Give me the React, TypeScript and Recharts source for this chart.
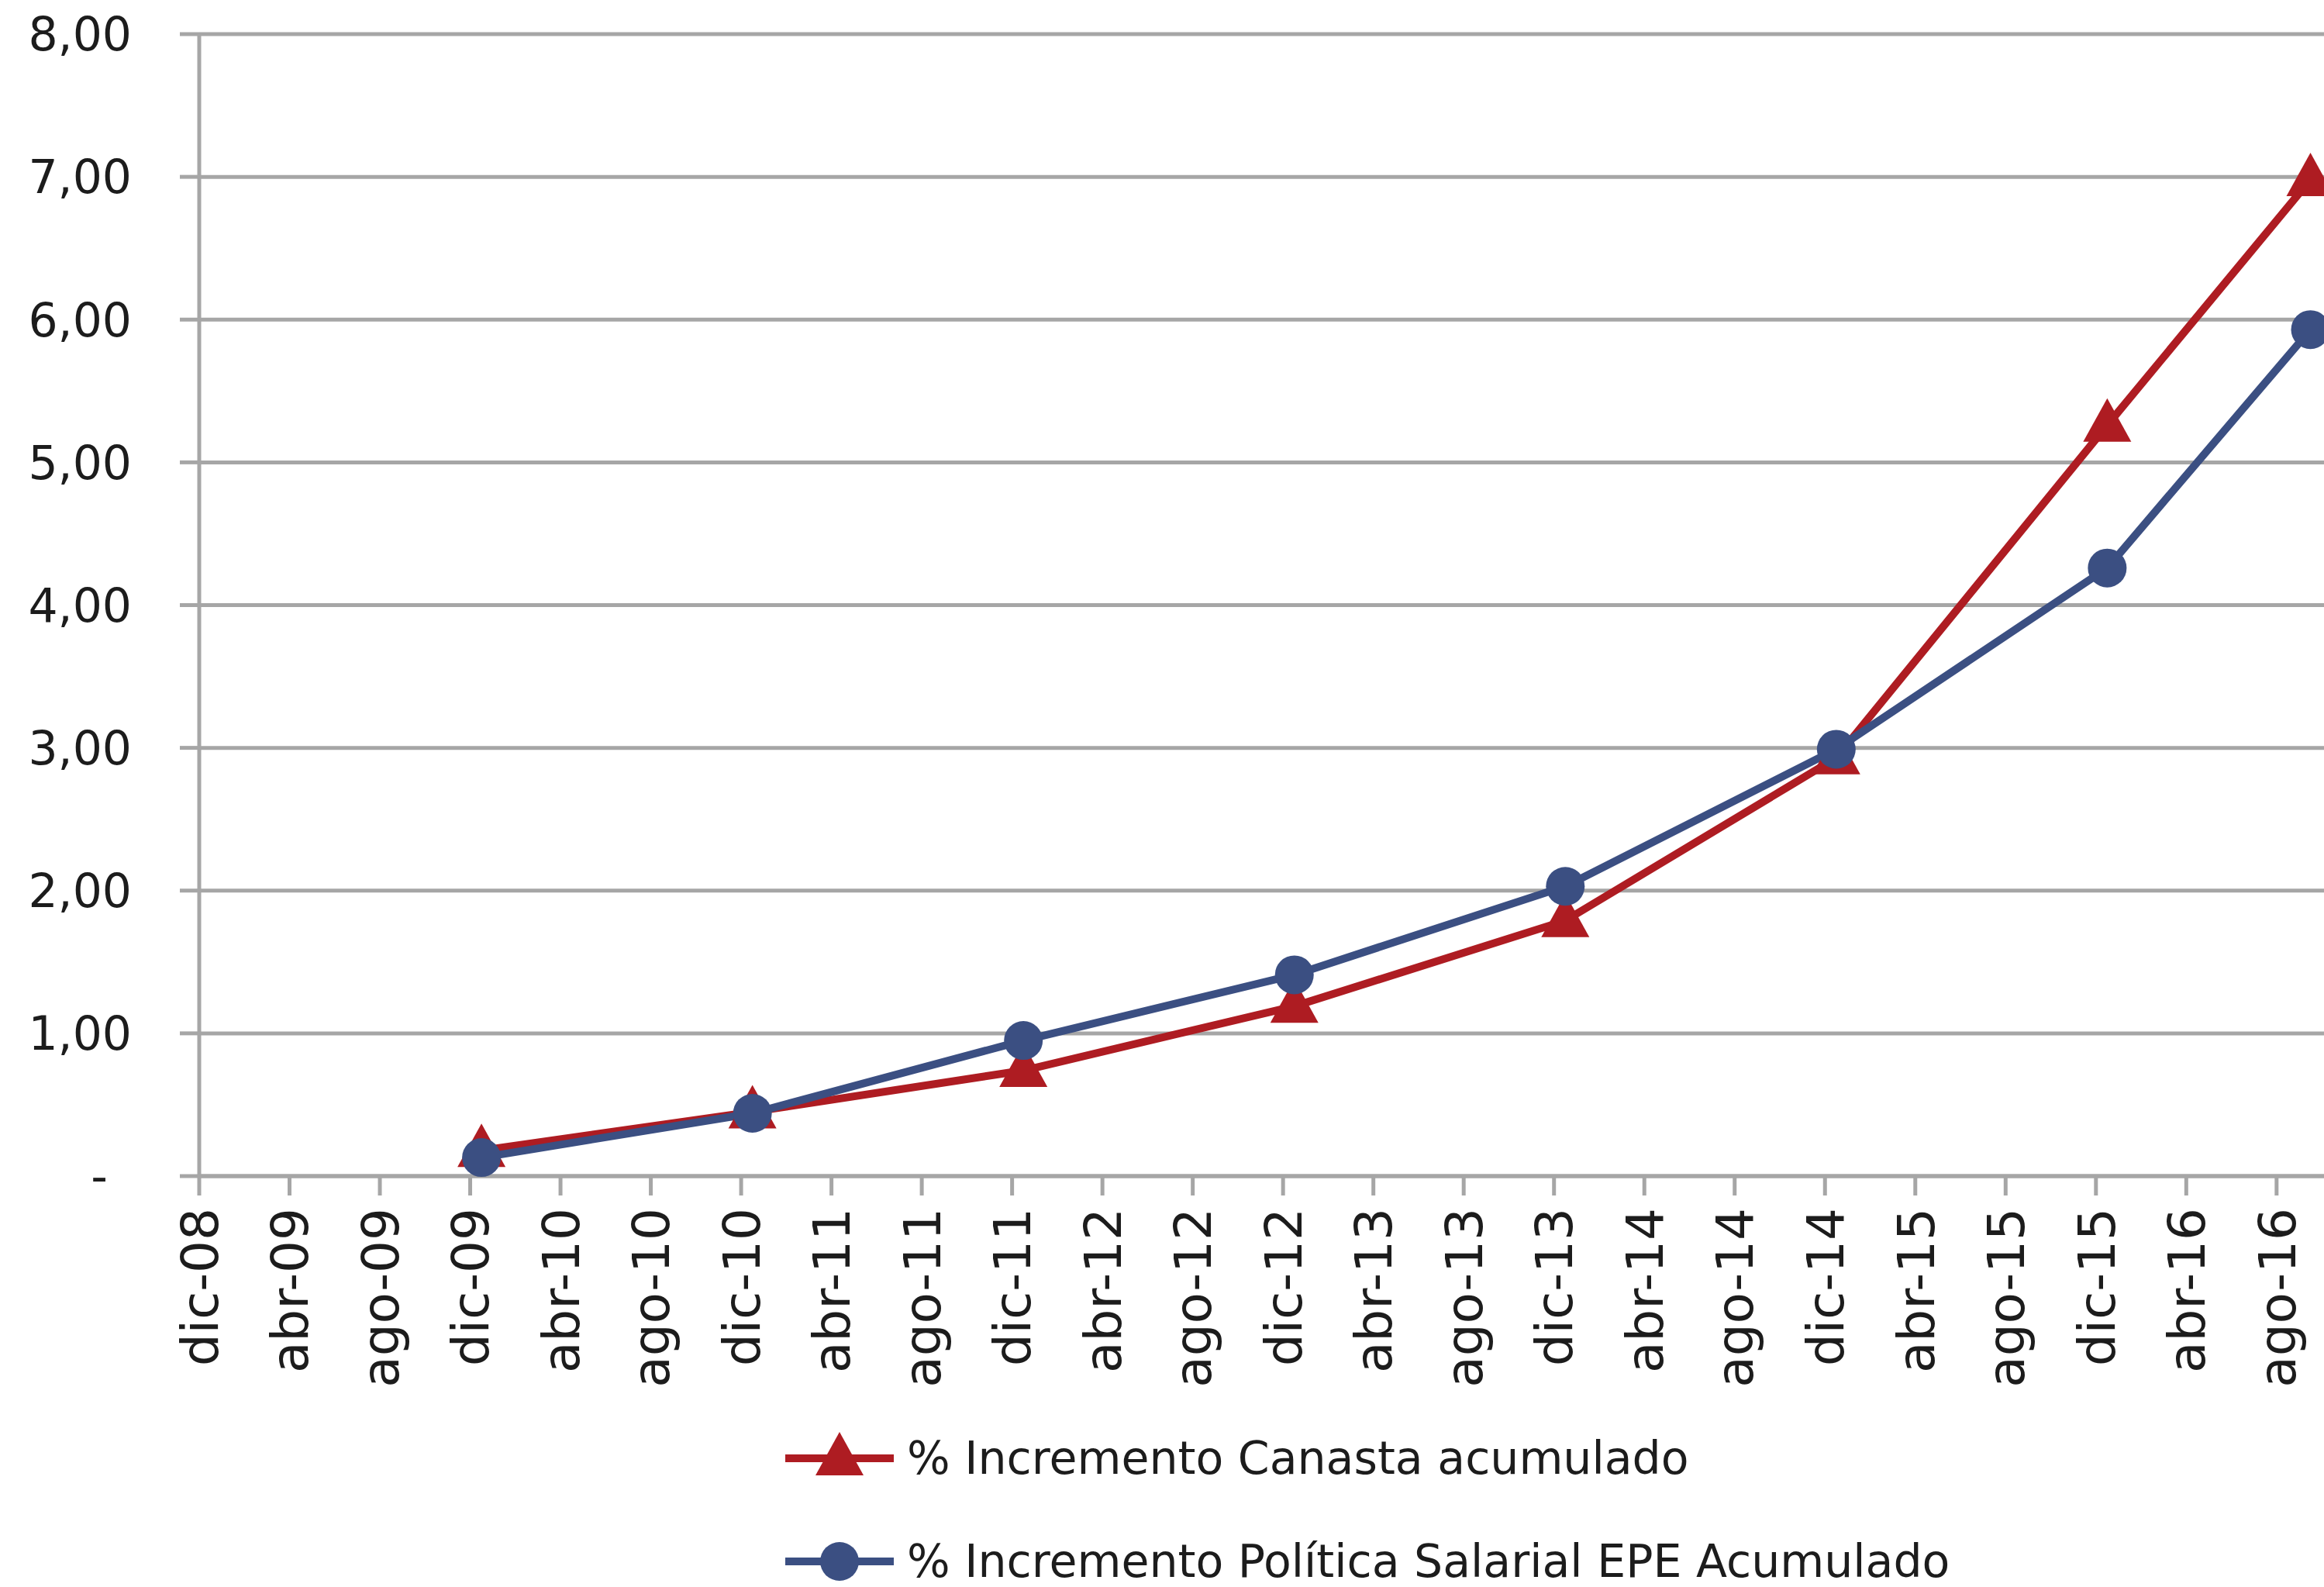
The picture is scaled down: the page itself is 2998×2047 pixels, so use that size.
import React from "react";
import {
    LineChart,
    Line,
    XAxis,
    YAxis,
    CartesianGrid,
    Legend,
} from "recharts";

// months counted from dic-08 (0); points sit mid-month
const POINT_MONTHS = [12.5, 24.5, 36.5, 48.5, 60.5, 72.5, 84.5, 93.5];
const CANASTA = [0.18, 0.45, 0.74, 1.19, 1.79, 2.93, 5.26, 6.98];
const POLITICA = [0.13, 0.44, 0.95, 1.41, 2.03, 2.99, 4.26, 5.93];

const TICK_LABELS = [
    "dic-08", "abr-09", "ago-09",
    "dic-09", "abr-10", "ago-10",
    "dic-10", "abr-11", "ago-11",
    "dic-11", "abr-12", "ago-12",
    "dic-12", "abr-13", "ago-13",
    "dic-13", "abr-14", "ago-14",
    "dic-14", "abr-15", "ago-15",
    "dic-15", "abr-16", "ago-16",
];
const X_TICKS = TICK_LABELS.map((_, i) => i * 4);
const Y_TICKS = [0, 1, 2, 3, 4, 5, 6, 7, 8];

const NAME_CANASTA = "% Incremento Canasta acumulado";
const NAME_POLITICA = "% Incremento Política Salarial EPE Acumulado";

const RED = "#AE1C22";
const BLUE = "#3B4F82";
const GRID = "#A6A6A6";
const FONT = "'DejaVu Sans', Verdana, sans-serif";

const data = POINT_MONTHS.map((m, i) => ({
    m,
    canasta: CANASTA[i],
    politica: POLITICA[i],
}));

const fmtY = (v: number) =>
    v === 0 ? "-\u00a0\u2009" : v.toFixed(2).replace(".", ",");

const XTick = (props: any) => {
    const { x, y, payload } = props;
    const label = TICK_LABELS[Math.round(payload.value / 4)];
    return (
        <text
            x={x}
            y={y}
            transform={`rotate(-90, ${x}, ${y})`}
            textAnchor="end"
            dy="0.36em"
            fontSize={66}
            fontFamily={FONT}
            fill="#1c1c1c"
        >
            {label}
        </text>
    );
};

const Triangle = (props: any) => {
    const { cx, cy, index } = props;
    if (cx == null || cy == null) return <g key={`t-${index}`} />;
    const h = 56;
    const w = 31;
    return (
        <path
            key={`t-${index}`}
            d={`M${cx},${cy - h * 0.62} L${cx + w},${cy + h * 0.38} L${cx - w},${cy + h * 0.38} Z`}
            fill={RED}
        />
    );
};

const LegendRow = ({ color, kind, text }: { color: string; kind: string; text: string }) => (
    <div style={{ display: "flex", alignItems: "center", height: 133 }}>
        <svg width={140} height={70} style={{ marginRight: 17 }}>
            <line x1={0} y1={35} x2={140} y2={35} stroke={color} strokeWidth={10} />
            {kind === "tri" ? (
                <path d="M70,1 L101,57 L39,57 Z" fill={color} />
            ) : (
                <circle cx={70} cy={35} r={25} fill={color} />
            )}
        </svg>
        <span style={{ fontFamily: FONT, fontSize: 58.5, color: "#1c1c1c", whiteSpace: "nowrap" }}>
            {text}
        </span>
    </div>
);

const renderLegend = () => (
    <div>
        <LegendRow color={RED} kind="tri" text={NAME_CANASTA} />
        <LegendRow color={BLUE} kind="dot" text={NAME_POLITICA} />
    </div>
);

export default function App() {
    return (
        <div style={{ position: "absolute", left: 0, top: 0, width: 2998, height: 2047, background: "#fff" }}>
            <LineChart
                width={2998}
                height={2047}
                data={data}
                margin={{ top: 44, right: 0, left: 0, bottom: 230 }}
            >
                <CartesianGrid vertical={false} stroke={GRID} strokeWidth={5} />
                <XAxis
                    type="number"
                    dataKey="m"
                    domain={[0, 94.1]}
                    ticks={X_TICKS}
                    interval={0}
                    height={300}
                    tick={<XTick />}
                    tickSize={25}
                    tickMargin={16}
                    axisLine={{ stroke: GRID, strokeWidth: 5 }}
                    tickLine={{ stroke: GRID, strokeWidth: 5 }}
                />
                <YAxis
                    domain={[0, 8]}
                    ticks={Y_TICKS}
                    width={257}
                    tickFormatter={fmtY}
                    tickSize={25}
                    tickMargin={62}
                    axisLine={{ stroke: GRID, strokeWidth: 5 }}
                    tickLine={{ stroke: GRID, strokeWidth: 5 }}
                    tick={{ fontSize: 60, fontFamily: FONT, fill: "#1c1c1c" }}
                />
                <Legend
                    layout="horizontal"
                    verticalAlign="middle"
                    align="center"
                    content={renderLegend}
                    wrapperStyle={{ left: 1013, top: 1814, width: 1800 }}
                />
                <Line
                    name={NAME_CANASTA}
                    dataKey="canasta"
                    stroke={RED}
                    strokeWidth={10}
                    dot={Triangle}
                    activeDot={false}
                    isAnimationActive={false}
                />
                <Line
                    name={NAME_POLITICA}
                    dataKey="politica"
                    stroke={BLUE}
                    strokeWidth={10}
                    dot={{ r: 25, fill: BLUE, stroke: BLUE, strokeWidth: 0 }}
                    activeDot={false}
                    isAnimationActive={false}
                />
            </LineChart>
        </div>
    );
}
